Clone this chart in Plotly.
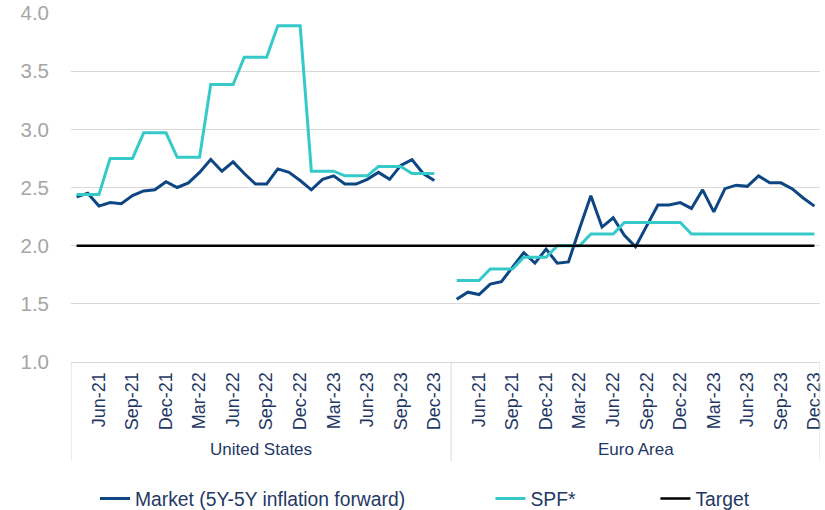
import plotly.graph_objects as go

months = ["Apr-21", "May-21", "Jun-21", "Jul-21", "Aug-21", "Sep-21", "Oct-21", "Nov-21",
          "Dec-21", "Jan-22", "Feb-22", "Mar-22", "Apr-22", "May-22", "Jun-22", "Jul-22",
          "Aug-22", "Sep-22", "Oct-22", "Nov-22", "Dec-22", "Jan-23", "Feb-23", "Mar-23",
          "Apr-23", "May-23", "Jun-23", "Jul-23", "Aug-23", "Sep-23", "Oct-23", "Nov-23",
          "Dec-23"]
groups = ["United States", "Euro Area"]
labelled_months = ["Jun-21", "Sep-21", "Dec-21", "Mar-22", "Jun-22", "Sep-22", "Dec-22",
                   "Mar-23", "Jun-23", "Sep-23", "Dec-23"]

us_market = [2.42, 2.45, 2.34, 2.37, 2.36, 2.43, 2.47, 2.48, 2.55, 2.50, 2.54, 2.63, 2.74,
             2.64, 2.72, 2.62, 2.53, 2.53, 2.66, 2.63, 2.56, 2.48, 2.57, 2.60, 2.53, 2.53,
             2.57, 2.63, 2.57, 2.69, 2.74, 2.62, 2.56]
us_spf = [2.44, 2.44, 2.44, 2.75, 2.75, 2.75, 2.97, 2.97, 2.97, 2.76, 2.76, 2.76, 3.385,
          3.385, 3.385, 3.62, 3.62, 3.62, 3.89, 3.89, 3.89, 2.64, 2.64, 2.64, 2.60, 2.60,
          2.60, 2.68, 2.68, 2.68, 2.62, 2.62, 2.62]
eu_market = [1.54, 1.60, 1.58, 1.67, 1.69, 1.82, 1.94, 1.85, 1.97, 1.85, 1.86, 2.15, 2.43,
             2.16, 2.24, 2.09, 1.99, 2.17, 2.35, 2.35, 2.37, 2.32, 2.48, 2.29, 2.49, 2.52,
             2.51, 2.60, 2.54, 2.54, 2.49, 2.41, 2.34]
eu_spf = [1.70, 1.70, 1.70, 1.80, 1.80, 1.80, 1.90, 1.90, 1.90, 2.00, 2.00, 2.00, 2.10,
          2.10, 2.10, 2.20, 2.20, 2.20, 2.20, 2.20, 2.20, 2.10, 2.10, 2.10, 2.10, 2.10,
          2.10, 2.10, 2.10, 2.10, 2.10, 2.10, 2.10]
target = 2.0

# category positions: US block, one empty slot, Euro block
n = len(months)
gap = 1
us_x = list(range(n))
eu_x = [n + gap + i for i in range(n)]
total = 2 * n + gap

NAVY = "#1F3864"
MARKET = "#0E4683"
SPF = "#36C9C9"
GRID = "#D9D9D9"
FONT = "Liberation Sans, Arial, sans-serif"
PAD1 = "\u00a0" * 15
PAD2 = "\u00a0" * 14

fig = go.Figure()
fig.add_trace(go.Scatter(
    x=us_x + [None] + eu_x, y=us_market + [None] + eu_market,
    mode="lines", line=dict(color=MARKET, width=3),
    name="Market (5Y-5Y inflation forward)" + PAD1))
fig.add_trace(go.Scatter(
    x=us_x + [None] + eu_x, y=us_spf + [None] + eu_spf,
    mode="lines", line=dict(color=SPF, width=3),
    name="SPF*" + PAD2))
fig.add_trace(go.Scatter(
    x=[us_x[0], eu_x[-1]], y=[target, target],
    mode="lines", line=dict(color="black", width=2.5),
    name="Target"))

tickvals = [us_x[months.index(m)] for m in labelled_months] + \
           [eu_x[months.index(m)] for m in labelled_months]
ticktext = labelled_months + labelled_months

# group labels and dividers
centers = [(us_x[0] + us_x[-1] + gap) / 2.0, (eu_x[0] + eu_x[-1]) / 2.0]
for g, c in zip(groups, centers):
    fig.add_annotation(x=c, y=-0.252, xref="x", yref="paper", text=g, showarrow=False,
                       font=dict(size=17, color=NAVY, family=FONT),
                       xanchor="center", yanchor="middle")
for xv in [-0.5, n + gap - 0.5, total - 0.5]:
    fig.add_shape(type="line", xref="x", yref="paper", x0=xv, x1=xv, y0=0, y1=-0.284,
                  line=dict(color=GRID, width=1))

fig.update_layout(
    width=825, height=510,
    margin=dict(l=71, r=5, t=13, b=148, autoexpand=False),
    paper_bgcolor="white", plot_bgcolor="white",
    font=dict(family=FONT, color=NAVY),
    showlegend=True,
    legend=dict(orientation="h", x=(95 - 71) / 749.0, xanchor="left",
                y=(362 - 499) / 349.0, yanchor="middle",
                font=dict(size=19.3, color=NAVY, family=FONT),
                bgcolor="rgba(0,0,0,0)"),
    xaxis=dict(range=[-0.5, total - 0.5], tickmode="array", tickvals=tickvals,
               ticktext=ticktext, tickangle=-90, showgrid=False, zeroline=False,
               showline=True, linecolor=GRID, linewidth=1, ticks="", automargin=False,
               ticklabelstandoff=2,
               tickfont=dict(size=18, color=NAVY, family=FONT)),
    yaxis=dict(range=[1.0, 4.0], dtick=0.5, tickformat=".1f", showgrid=True,
               gridcolor=GRID, gridwidth=1, zeroline=False, showline=False,
               ticks="", ticklabelstandoff=21, automargin=False,
               tickfont=dict(size=20.5, color="#A6A6A6", family=FONT)),
)

fig.write_html("out.html", config={"displayModeBar": False},
               post_script="document.body.style.margin='0';")
